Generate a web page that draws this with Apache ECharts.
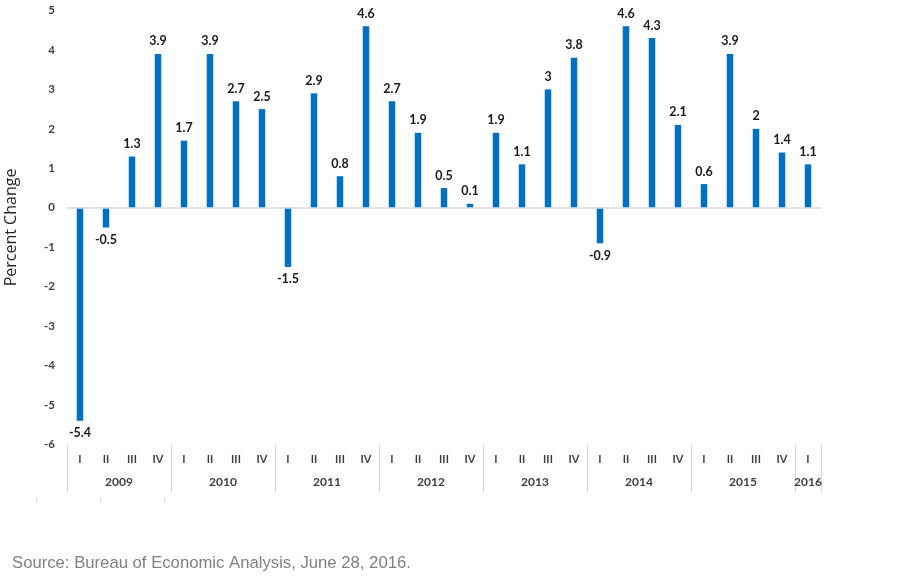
<!DOCTYPE html>
<html>
<head>
<meta charset="utf-8">
<script src="https://cdn.jsdelivr.net/npm/echarts@6/dist/echarts.min.js"></script>
<style>
html,body{margin:0;padding:0;background:#fff;}
#c{width:897px;height:582px;}
</style>
</head>
<body>
<div id="c"></div>
<script>
var quarters = ['I','II','III','IV','I','II','III','IV','I','II','III','IV','I','II','III','IV','I','II','III','IV','I','II','III','IV','I','II','III','IV','I'];
var values = [-5.4,-0.5,1.3,3.9, 1.7,3.9,2.7,2.5, -1.5,2.9,0.8,4.6, 2.7,1.9,0.5,0.1, 1.9,1.1,3,3.8, -0.9,4.6,4.3,2.1, 0.6,3.9,2,1.4, 1.1];
var years = ['2009','2010','2011','2012','2013','2014','2015','2016'];
var yearQuarterCounts = [4,4,4,4,4,4,4,1];
var yTicks = {min:-6, max:5, interval:1};

// Build half-quarter positions for the year axis (boundaryGap false)
var halfCats = [];
var yearLabelAt = {};
var sepAt = {};
(function(){
  var pos = 0;
  sepAt[0] = true;
  for (var i = 0; i < years.length; i++) {
    var n = yearQuarterCounts[i] * 2;
    yearLabelAt[pos + n/2] = years[i];
    pos += n;
    sepAt[pos] = true;
  }
  for (var k = 0; k <= pos; k++) halfCats.push(yearLabelAt[k] || '');
})();

var chart = echarts.init(document.getElementById('c'));
chart.setOption({
  animation: false,
  grid: {left: 67, right: 76, top: 10.5, bottom: 137.5, containLabel: false, outerBoundsMode: 'none'},
  xAxis: [{
    type: 'category',
    data: quarters,
    position: 'bottom',
    axisLine: {show: false},
    axisTick: {show: false},
    axisLabel: {
      margin: 9,
      fontFamily: 'Lato, "Open Sans", sans-serif',
      fontWeight: 'bold',
      fontSize: 11,
      color: '#404040',
      interval: 0
    }
  }, {
    type: 'category',
    data: halfCats,
    boundaryGap: false,
    position: 'bottom',
    axisLine: {show: false},
    axisTick: {
      show: true,
      length: 48,
      lineStyle: {color: '#d9d9d9', width: 1},
      interval: function(idx){ return !!sepAt[idx]; }
    },
    axisLabel: {
      margin: 32,
      interval: 0,
      fontFamily: 'Lato, "Open Sans", sans-serif',
      fontWeight: 'bold',
      fontSize: 12,
      color: '#404040'
    }
  }],
  yAxis: {
    type: 'value',
    min: yTicks.min, max: yTicks.max, interval: yTicks.interval,
    axisLine: {show: false},
    axisTick: {show: false},
    splitLine: {show: false},
    axisLabel: {
      margin: 12,
      fontFamily: 'Lato, "Open Sans", sans-serif',
      fontWeight: 'bold',
      fontSize: 11.5,
      color: '#404040'
    },
    name: 'Percent Change',
    nameLocation: 'middle',
    nameRotate: 90,
    nameGap: 48,
    nameTextStyle: {
      fontFamily: '"Open Sans", sans-serif',
      fontSize: 16,
      color: '#262626'
    }
  },
  series: [{
    type: 'bar',
    data: values,
    xAxisIndex: 0,
    barWidth: 6.5,
    itemStyle: {color: '#0070C0'},
    label: {
      show: true,
      position: 'outside',
      distance: 6,
      fontFamily: 'Lato, "Open Sans", sans-serif',
      fontWeight: 'bold',
      fontSize: 12.5,
      color: '#1a1a1a'
    },
    markLine: {
      silent: true,
      symbol: 'none',
      label: {show: false},
      lineStyle: {color: '#d9d9d9', width: 1.5, type: 'solid'},
      data: [{yAxis: 0}]
    }
  }],
  graphic: [
    {type: 'text', left: 12, top: 555, style: {text: 'Source: Bureau of Economic Analysis, June 28, 2016.', fill: '#808080', font: '16.7px "Liberation Sans", Arial, sans-serif'}},
    {type: 'line', shape: {x1: 36.5, y1: 498, x2: 36.5, y2: 502}, style: {stroke: '#d9d9d9', lineWidth: 1}},
    {type: 'line', shape: {x1: 100.5, y1: 498, x2: 100.5, y2: 502}, style: {stroke: '#d9d9d9', lineWidth: 1}},
    {type: 'line', shape: {x1: 164.5, y1: 498, x2: 164.5, y2: 502}, style: {stroke: '#d9d9d9', lineWidth: 1}}
  ]
});
</script>
</body>
</html>
